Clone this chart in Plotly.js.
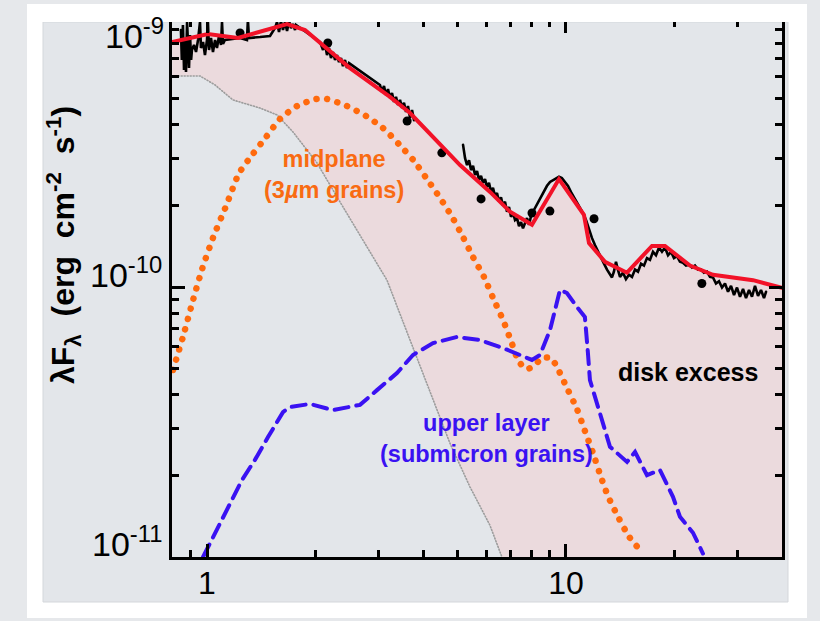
<!DOCTYPE html>
<html>
<head>
<meta charset="utf-8">
<script src="https://cdn.plot.ly/plotly-3.0.1.min.js"></script>
<style>
html,body{margin:0;padding:0;background:#e6e8eb;}
#chart{width:820px;height:621px;}
.scatterlayer .js-line{stroke-linecap:round;}
</style>
</head>
<body>
<div id="chart"></div>
<script>
// ---------- observed spectrum (black) ----------
const specWave = [0.846,0.851,0.857,0.863,0.868,0.874,0.880,0.885,0.891,0.897,0.903,0.908,0.920,0.932,0.944,0.956,0.962,0.975,0.987,1.000,1.006,1.013,1.026,1.039,1.053,1.066,1.080,1.094,1.101,1.108,1.122,1.236,1.292,1.300,1.309,1.405,1.498,1.547,1.567,1.587,1.607,1.628,1.649,1.671,1.692,1.714,1.736,1.759,1.770,
2.065,2.105,2.132,2.159,2.187,2.215,2.244,2.273,2.302,2.332,2.362,2.392,2.423,2.454,2.486,
3.033,3.072,3.112,3.152,3.193,3.234,3.276,3.318,3.361,3.404,3.449,3.493,3.538,3.584,3.630,3.678,3.725,3.773,
null,
5.167,5.234,5.301,5.370,5.439,5.509,5.580,5.652,5.724,5.798,5.873,5.949,6.025,6.103,6.182,6.261,6.343,6.424,6.507,6.591,6.676,6.763,6.850,6.938,7.028,7.119,7.211,7.304,7.398,7.494,7.590,7.689,7.788,7.888,7.990,8.093,8.198,8.303,8.410,8.519,8.629,8.741,8.854,
9.026,9.20,9.38,9.56,9.74,9.93,10.13,10.32,10.52,10.73,10.94,11.15,11.37,11.59,11.81,12.04,12.28,12.51,12.76,13.01,13.26,
13.43,13.60,13.78,13.95,14.14,
14.41,14.69,14.98,15.27,15.57,15.87,16.18,16.49,16.81,17.14,17.47,17.81,18.16,18.51,18.87,19.24,19.61,19.99,20.38,20.77,21.18,21.59,22.01,22.44,22.87,23.32,23.77,24.23,24.70,25.18,25.67,26.17,26.68,27.20,27.73,28.27,28.82,29.38,29.95,30.53,31.13,31.73,32.35,32.97,33.61,34.27,34.93,35.61,
36.07];
const specFlux = [8.95e-10,6.93e-10,9.34e-10,6.36e-10,8.22e-10,6.26e-10,9.58e-10,7.23e-10,6.47e-10,8.58e-10,6.93e-10,7.55e-10,7.88e-10,7.42e-10,8.22e-10,9.58e-10,7.68e-10,8.08e-10,7.23e-10,8.22e-10,9.58e-10,7.55e-10,8.36e-10,7.42e-10,8.22e-10,7.68e-10,8.51e-10,7.88e-10,9.58e-10,7.95e-10,8.22e-10,8.36e-10,8.22e-10,9.75e-10,8.36e-10,8.43e-10,8.51e-10,9.10e-10,9.58e-10,8.80e-10,9.67e-10,8.95e-10,9.58e-10,8.87e-10,9.67e-10,9.10e-10,9.42e-10,8.95e-10,9.34e-10,
8.08e-10,7.55e-10,7.95e-10,7.23e-10,7.68e-10,7.05e-10,7.42e-10,6.93e-10,7.23e-10,6.81e-10,7.05e-10,6.58e-10,6.93e-10,6.47e-10,6.75e-10,
5.60e-10,5.28e-10,5.55e-10,5.14e-10,5.41e-10,5.01e-10,5.23e-10,4.85e-10,5.06e-10,4.72e-10,4.93e-10,4.60e-10,4.81e-10,4.45e-10,4.68e-10,4.23e-10,4.52e-10,4.15e-10,
null,
3.36e-10,3.00e-10,2.83e-10,2.95e-10,2.71e-10,2.81e-10,2.60e-10,2.69e-10,2.49e-10,2.58e-10,2.43e-10,2.51e-10,2.35e-10,2.43e-10,2.25e-10,2.33e-10,2.17e-10,2.23e-10,2.07e-10,2.15e-10,2.00e-10,2.07e-10,1.90e-10,1.98e-10,1.82e-10,1.88e-10,1.77e-10,1.80e-10,1.68e-10,1.74e-10,1.65e-10,1.74e-10,1.80e-10,1.70e-10,1.83e-10,1.90e-10,1.96e-10,2.01e-10,2.10e-10,2.15e-10,2.23e-10,2.29e-10,2.37e-10,
2.45e-10,2.49e-10,2.53e-10,2.56e-10,2.53e-10,2.45e-10,2.37e-10,2.25e-10,2.15e-10,2.05e-10,1.96e-10,1.88e-10,1.77e-10,1.63e-10,1.52e-10,1.43e-10,1.35e-10,1.28e-10,1.22e-10,1.16e-10,1.11e-10,
1.085e-10,1.14e-10,1.24e-10,1.16e-10,1.09e-10,
1.13e-10,1.07e-10,1.11e-10,1.09e-10,1.16e-10,1.14e-10,1.22e-10,1.20e-10,1.28e-10,1.26e-10,1.35e-10,1.31e-10,1.40e-10,1.35e-10,1.40e-10,1.31e-10,1.35e-10,1.28e-10,1.30e-10,1.24e-10,1.23e-10,1.20e-10,1.21e-10,1.18e-10,1.20e-10,1.16e-10,1.16e-10,1.13e-10,1.14e-10,1.09e-10,1.085e-10,1.03e-10,1.05e-10,0.995e-10,1.03e-10,0.96e-10,1.01e-10,0.934e-10,0.995e-10,0.92e-10,0.983e-10,0.91e-10,0.975e-10,0.92e-10,1.01e-10,0.927e-10,0.975e-10,0.91e-10,
0.96e-10];

// ---------- photometry (black dots) ----------
const photWave = [1.236, 2.17, 3.61, 4.51, 5.80, 8.04, 9.02, 11.97, 23.9];
const photFlux = [8.73e-10, 8.01e-10, 4.12e-10, 3.14e-10, 2.12e-10, 1.88e-10, 1.91e-10, 1.79e-10, 1.03e-10];

// ---------- total disk model (red) ----------
const modelWave = [0.80, 1.006, 1.22, 1.671, 1.875, 2.105, 2.502, 3.234, 3.678, 5.067, 6.143, 6.984, 8.04, 9.56, 11.22, 11.59, 12.84, 14.79, 17.36, 18.87, 22.15, 25.67, 33.19, 39.97];
const modelFlux = [8.08e-10, 8.65e-10, 8.36e-10, 9.42e-10, 8.95e-10, 7.88e-10, 6.47e-10, 5.06e-10, 4.41e-10, 2.83e-10, 2.25e-10, 1.90e-10, 1.70e-10, 2.51e-10, 1.85e-10, 1.455e-10, 1.24e-10, 1.13e-10, 1.42e-10, 1.42e-10, 1.20e-10, 1.11e-10, 1.06e-10, 0.992e-10];

// ---------- stellar photosphere (gray dotted) ----------
const photoWave = [0.80, 0.956, 1.053, 1.181, 1.405, 1.567, 1.736, 2.025, 2.392, 2.791, 3.172, 3.678, 4.18, 4.75, 5.40, 6.14, 6.63];
const photoFlux = [6.05e-10, 6.05e-10, 5.60e-10, 4.93e-10, 4.60e-10, 4.34e-10, 3.75e-10, 2.88e-10, 1.98e-10, 1.41e-10, 1.06e-10, 6.36e-11, 4.08e-11, 2.64e-11, 1.82e-11, 1.31e-11, 1.00e-11];

// ---------- midplane, 3 micron grains (orange dotted) ----------
const midWave = [0.804, 0.857, 0.908, 0.968, 1.039, 1.130, 1.228, 1.335, 1.460, 1.597, 1.781, 2.012, 2.159, 2.454, 2.773, 3.092, 3.426, 3.773, 4.10, 4.457, 4.815, 5.167, 5.51, 5.909, 6.262, 6.677, 7.029, 7.396, 7.788, 8.144, 8.574, 9.083, 9.440, 10.06, 10.73, 11.29, 11.89, 12.43, 13.09, 13.96, 14.98, 16.39];
const midFlux = [4.93e-11, 6.53e-11, 8.65e-11, 1.16e-10, 1.52e-10, 1.995e-10, 2.64e-10, 3.08e-10, 3.59e-10, 4.19e-10, 4.68e-10, 4.97e-10, 4.97e-10, 4.68e-10, 4.30e-10, 3.88e-10, 3.38e-10, 2.93e-10, 2.51e-10, 2.14e-10, 1.82e-10, 1.53e-10, 1.29e-10, 1.09e-10, 9.11e-11, 7.55e-11, 6.31e-11, 5.28e-11, 4.97e-11, 5.10e-11, 5.46e-11, 5.46e-11, 5.05e-11, 4.23e-11, 3.53e-11, 2.93e-11, 2.43e-11, 2.03e-11, 1.68e-11, 1.41e-11, 1.19e-11, 1.03e-11];

// ---------- upper layer, submicron grains (blue dashed) ----------
const upWave = [0.975, 1.039, 1.108, 1.174, 1.252, 1.360, 1.479, 1.628, 1.703, 1.936, 2.244, 2.668, 2.975, 3.382, 3.748, 4.262, 4.971, 5.761, 6.677, 7.788, 8.04, 8.466, 9.026, 9.623, 10.06, 10.73, 11.29, 11.51, 11.66, 12.43, 13.26, 14.79, 15.57, 16.81, 18.27, 19.86, 20.77, 22.58, 24.07];
const upFlux = [1.00e-11, 1.176e-11, 1.41e-11, 1.63e-11, 1.93e-11, 2.29e-11, 2.78e-11, 3.44e-11, 3.59e-11, 3.69e-11, 3.50e-11, 3.66e-11, 4.15e-11, 4.80e-11, 5.60e-11, 6.20e-11, 6.53e-11, 6.36e-11, 5.94e-11, 5.46e-11, 5.37e-11, 5.60e-11, 6.93e-11, 9.75e-11, 9.50e-11, 8.43e-11, 7.74e-11, 5.70e-11, 4.52e-11, 3.41e-11, 2.56e-11, 2.25e-11, 2.45e-11, 2.01e-11, 2.10e-11, 1.67e-11, 1.41e-11, 1.23e-11, 1.03e-11];

// ---------- axis ticks ----------
const xTickVals = [1, 10];
const xTickText = ['1', '10'];
const xMinorVals = [0.8, 0.9, 2, 3, 4, 5, 6, 7, 8, 9, 20, 30, 40];
const yTickVals = [1e-11, 1e-10];
const yMinorVals = [2e-11,3e-11,4e-11,5e-11,6e-11,7e-11,8e-11,9e-11,2e-10,3e-10,4e-10,5e-10,6e-10,7e-10,8e-10,9e-10];
const yTickLabels = ['10<sup>-11</sup>', '10<sup>-10</sup>', '10<sup>-9</sup>'];

const PANEL = '#e3e6ea';
const PINK = '#ebdadd';
const SANS = 'Liberation Sans, Arial, Helvetica, sans-serif';
const NB = '\u00a0';

const traces = [
  {x: modelWave, y: modelFlux, mode: 'none', fill: 'tozeroy', fillcolor: PINK, hoverinfo: 'skip'},
  {x: photoWave, y: photoFlux, mode: 'none', fill: 'tozeroy', fillcolor: PANEL, hoverinfo: 'skip'},
  {x: photoWave, y: photoFlux, mode: 'lines', line: {color: '#9c9c9c', width: 1.6, dash: '1px,2px'}},
  {x: midWave, y: midFlux, mode: 'lines', line: {color: '#ff6a0d', width: 6.5, dash: '0.1px,10.5px', shape: 'spline', smoothing: 0.6}},
  {x: upWave, y: upFlux, mode: 'lines', line: {color: '#3a12f2', width: 4, dash: '14px,8px'}},
  {x: specWave, y: specFlux, mode: 'lines', line: {color: '#000', width: 2.6}, connectgaps: false},
  {x: photWave, y: photFlux, mode: 'markers', marker: {color: '#000', size: 9, symbol: 'circle'}},
  {x: modelWave, y: modelFlux, mode: 'lines', line: {color: '#f21228', width: 4}}
];

function px2paperX(px){ return (px - 172) / 610; }
function px2paperY(py){ return (557 - py) / 537; }

const axisCommon = {
  type: 'log', ticks: 'inside', ticklen: 13, tickwidth: 3, tickcolor: '#000',
  showline: true, linewidth: 3, linecolor: '#000', mirror: 'ticks',
  showgrid: false, zeroline: false
};

const layout = {
  width: 820, height: 621,
  margin: {l: 172, r: 38, t: 20, b: 64, pad: 0},
  paper_bgcolor: '#e6e8eb',
  plot_bgcolor: PANEL,
  showlegend: false,
  font: {family: SANS, color: '#000'},
  xaxis: Object.assign({}, axisCommon, {
    range: [-0.0975, 1.6017], tickmode: 'array', tickvals: xTickVals, ticktext: xTickText,
    tickfont: {size: 32, color: '#000', family: SANS}, ticklabelstandoff: -4,
    minor: {tickmode: 'array', tickvals: xMinorVals, ticks: 'inside', ticklen: 7, tickwidth: 3, tickcolor: '#000', showgrid: false}
  }),
  yaxis: Object.assign({}, axisCommon, {
    range: [-11, -9.0111], tickmode: 'array', tickvals: yTickVals, showticklabels: false,
    minor: {tickmode: 'array', tickvals: yMinorVals, ticks: 'inside', ticklen: 7, tickwidth: 3, tickcolor: '#000', showgrid: false}
  }),
  shapes: [
    {type: 'rect', xref: 'paper', yref: 'paper', x0: px2paperX(27), x1: px2paperX(807), y0: px2paperY(618), y1: px2paperY(4), fillcolor: '#ffffff', line: {width: 0}, layer: 'below'},
    {type: 'rect', xref: 'paper', yref: 'paper', x0: px2paperX(43), x1: px2paperX(788), y0: px2paperY(602), y1: px2paperY(22), fillcolor: PANEL, line: {color: '#d4d7db', width: 1}, layer: 'below'},
    {type: 'rect', xref: 'paper', yref: 'paper', x0: px2paperX(27), x1: px2paperX(807), y0: px2paperY(22), y1: px2paperY(4), fillcolor: '#ffffff', line: {width: 0}, layer: 'above'}
  ],
  annotations: [
    {xref: 'paper', yref: 'paper', x: px2paperX(64), y: px2paperY(245), text: 'λF<sub>λ</sub>' + NB + NB + '(erg' + NB + NB + 'cm<sup>-2</sup>' + NB + NB + 's<sup>-1</sup>)', textangle: -90, showarrow: false, xanchor: 'center', yanchor: 'middle', font: {size: 32, color: '#000', family: SANS, weight: 'bold'}},
    {xref: 'paper', yref: 'paper', x: px2paperX(164), y: px2paperY(541), text: yTickLabels[0], showarrow: false, xanchor: 'right', yanchor: 'middle', font: {size: 34, color: '#000', family: SANS}},
    {xref: 'paper', yref: 'paper', x: px2paperX(164), y: px2paperY(272), text: yTickLabels[1], showarrow: false, xanchor: 'right', yanchor: 'middle', font: {size: 34, color: '#000', family: SANS}},
    {xref: 'paper', yref: 'paper', x: px2paperX(166), y: px2paperY(34), text: yTickLabels[2], showarrow: false, xanchor: 'right', yanchor: 'middle', font: {size: 34, color: '#000', family: SANS}},
    {xref: 'paper', yref: 'paper', x: px2paperX(334), y: px2paperY(174), text: 'midplane<br>(3<i>µ</i>m grains)', showarrow: false, xanchor: 'center', yanchor: 'middle', font: {size: 23.5, color: '#f96b12', family: SANS, weight: 'bold'}},
    {xref: 'paper', yref: 'paper', x: px2paperX(486), y: px2paperY(438), text: 'upper layer<br>(submicron grains)', showarrow: false, xanchor: 'center', yanchor: 'middle', font: {size: 23.5, color: '#3a12f2', family: SANS, weight: 'bold'}},
    {xref: 'paper', yref: 'paper', x: px2paperX(688), y: px2paperY(372), text: 'disk excess', showarrow: false, xanchor: 'center', yanchor: 'middle', font: {size: 25, color: '#000', family: SANS, weight: 'bold'}}
  ]
};

Plotly.newPlot('chart', traces, layout, {displayModeBar: false, staticPlot: true});
</script>
</body>
</html>
